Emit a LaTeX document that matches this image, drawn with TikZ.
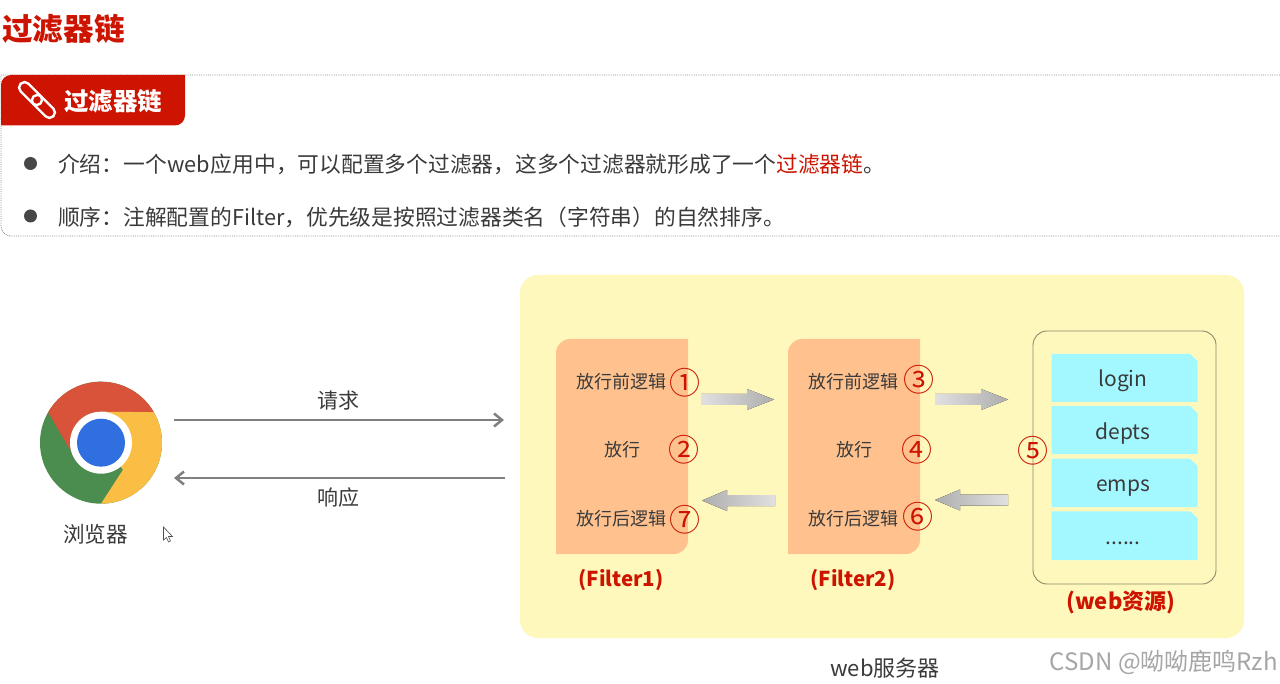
\documentclass[tikz,border=0pt]{standalone}
\usepackage{fontspec}
\setmainfont{Noto Sans CJK SC}
\usetikzlibrary{arrows.meta}
\definecolor{redc}{HTML}{CC1400}
\definecolor{txt}{HTML}{3A3A3A}
\definecolor{panel}{HTML}{FFF8BD}
\definecolor{orangec}{HTML}{FFC28F}
\definecolor{cyanc}{HTML}{A3F8FF}
\definecolor{arrowc}{HTML}{7F7F7F}
\definecolor{gr}{HTML}{4A8D4E}
\definecolor{rd}{HTML}{D9533A}
\definecolor{yl}{HTML}{FBBE45}
\definecolor{bl}{HTML}{2F6FE0}
\newcommand{\fs}[1]{\fontsize{#1}{#1}\selectfont}
\tikzset{
  lbl/.style={inner sep=0pt,text=txt,font=\fs{18}},
  bigl/.style={inner sep=0pt,text=txt,font=\fs{21}},
  num/.style={inner sep=0pt,text=redc,font=\fs{31}},
  redb/.style={inner sep=0pt,text=redc,font=\fs{20.5}\bfseries},
  flow/.style={draw=arrowc,line width=2.5pt,-{Straight Barb[length=8pt,width=13pt,line width=2.5pt]}},
  gradr/.style={left color=black!12,right color=black!32,draw=none},
  gradl/.style={left color=black!32,right color=black!12,draw=none}
}
\newcommand{\fatright}[2]{% tail x, centre y
  \fill[gradr] (#1,#2-5.5) -- (#1+46,#2-5.5) -- (#1+46,#2-10.5) -- (#1+73,#2) -- (#1+46,#2+10.5) -- (#1+46,#2+5.5) -- (#1,#2+5.5) -- cycle;}
\newcommand{\fatleft}[2]{% tip x, centre y
  \fill[gradl] (#1,#2) -- (#1+25,#2-10.5) -- (#1+25,#2-5.5) -- (#1+73,#2-5.5) -- (#1+73,#2+5.5) -- (#1+25,#2+5.5) -- (#1+25,#2+10.5) -- cycle;}
\newcommand{\filterbox}[1]{% left x
  \fill[orangec] (#1,420) [rounded corners=14pt] -- (#1,339) [sharp corners] -- (#1+132,339) [rounded corners=14pt] -- (#1+132,554) [sharp corners] -- (#1,554) -- cycle;}
\newcommand{\webcard}[3]{% top y, bottom y, text
  \fill[cyanc] (1051.5,#1) -- (1190,#1) -- (1197.5,#1+7) -- (1197.5,#2) -- (1051.5,#2) -- cycle;
  \node[bigl,anchor=base] at (1123,#1+33) {#3};}
\begin{document}
\begin{tikzpicture}[x=1pt,y=-1pt]
\useasboundingbox[fill=white] (0,0) rectangle (1280,684);
% title
\node[anchor=west,inner sep=0pt,text=redc,font=\fs{30.6}\bfseries] (title) at (2,29) {过滤器链};
% dashed card
\draw[black!45,densely dotted,line width=0.8pt] (1280,75) -- (1,75) [rounded corners=10pt] -- (1,236) [sharp corners] -- (1280,236);
% tab
\fill[redc] (1,125.5) [rounded corners=10pt] -- (1,75) [sharp corners] -- (185,75) [rounded corners=10pt] -- (185,125.5) [sharp corners] -- cycle;
\begin{scope}[white,line width=2.4pt]
  \draw[rotate around={-45:(30.6,93.6)},rounded corners=5.4pt] (16.6,88.1) rectangle (44.6,99.1);
  \draw[rotate around={-45:(43.4,106.4)},rounded corners=5.4pt] (29.4,100.9) rectangle (57.4,111.9);
\end{scope}
\node[anchor=west,inner sep=0pt,text=white,font=\fs{24.5}\bfseries] (tab) at (64,101) {过滤器链};
% bullets
\fill[black!72] (30.5,163.5) circle[radius=6.5pt];
\fill[black!72] (30.5,216) circle[radius=6.5pt];
\node[anchor=west,inner sep=0pt,text=txt,font=\fs{21.75}] (l1) at (58,164.5) {介绍：一个\kern0.5pt web\kern0.5pt 应用中，可以配置多个过滤器，这多个过滤器就形成了一个\textcolor{redc}{过滤器链}。};
\node[anchor=west,inner sep=0pt,text=txt,font=\fs{21.75}] (l2) at (58,217) {顺序：注解配置的Filter，优先级是按照过滤器类名（字符串）的自然排序。};
% panel
\fill[panel,rounded corners=18pt] (520,275) rectangle (1244,638);
\filterbox{556}
\filterbox{788}
\draw[black!45!panel,line width=0.9pt,rounded corners=14pt] (1033,331) rectangle (1216,584);
\webcard{354}{402}{login}
\webcard{406}{454}{depts}
\webcard{458.7}{507}{emps}
\webcard{511.3}{560}{......}
% chrome
\begin{scope}[shift={(101,442.7)},y=1pt]
  \fill[gr] (0,0) circle[radius=61pt];
  \fill[rd] (30:61pt) arc[start angle=30,end angle=150,radius=61pt] -- (-31,-7) -- (0,31) -- cycle;
  \fill[yl] (30:61pt) arc[start angle=30,end angle=-90,radius=61pt] -- (22,-27) -- (0,0) -- (0,31) -- cycle;
  \fill[white] (0,0) circle[radius=31pt];
  \fill[bl] (0,0) circle[radius=24pt];
\end{scope}
\node[bigl,font=\fs{21.6}] (browser) at (95.5,534.5) {浏览器};
% cursor
\draw[black!70,fill=white,line width=0.6pt] (163.5,527) -- (163.5,540) -- (166.5,537.5) -- (168.5,542) -- (170.5,541) -- (168.5,536.5) -- (172.5,536.5) -- cycle;
% flows
\coordinate (reqa) at (174,420);
\coordinate (reqb) at (504,420);
\coordinate (resa) at (505,478);
\coordinate (resb) at (174,478);
\draw[flow] (reqa) -- (reqb);
\draw[flow] (resa) -- (resb);
\node[bigl] (req) at (338,400.5) {请求};
\node[bigl] (resp) at (338,497.5) {响应};
% fat arrows
\fatright{701}{399.5}
\fatright{935}{399.5}
\fatleft{702}{500.5}
\fatleft{935}{500}
% filter text
\node[lbl] (a1) at (621.5,381.7) {放行前逻辑};
\node[lbl] (a2) at (622,449.7) {放行};
\node[lbl] (a3) at (621.5,518.7) {放行后逻辑};
\node[lbl] (b1) at (853.5,381.7) {放行前逻辑};
\node[lbl] (b2) at (854,449.7) {放行};
\node[lbl] (b3) at (853.5,518.7) {放行后逻辑};
\node[num] (n1) at (684.5,383) {①};
\node[num] (n2) at (683.5,450) {②};
\node[num] (n7) at (684.5,519.5) {⑦};
\node[num] (n3) at (919,380) {③};
\node[num] (n4) at (916.5,450) {④};
\node[num] (n6) at (917.5,517) {⑥};
\node[num] (n5) at (1033,451) {⑤};
\node[redb] (f1) at (621,580) {(Filter1)};
\node[redb] (f2) at (853,580) {(Filter2)};
\node[redb,font=\fs{22}\bfseries] (f3) at (1121,602) {(web资源)};
\node[bigl,font=\fs{22}] (srv) at (885,668.5) {web服务器};
\node[anchor=east,inner sep=0pt,text=black!35,font=\fs{24}] (wm) at (1278,662.7) {CSDN @呦呦鹿鸣Rzh};
\end{tikzpicture}
\end{document}
